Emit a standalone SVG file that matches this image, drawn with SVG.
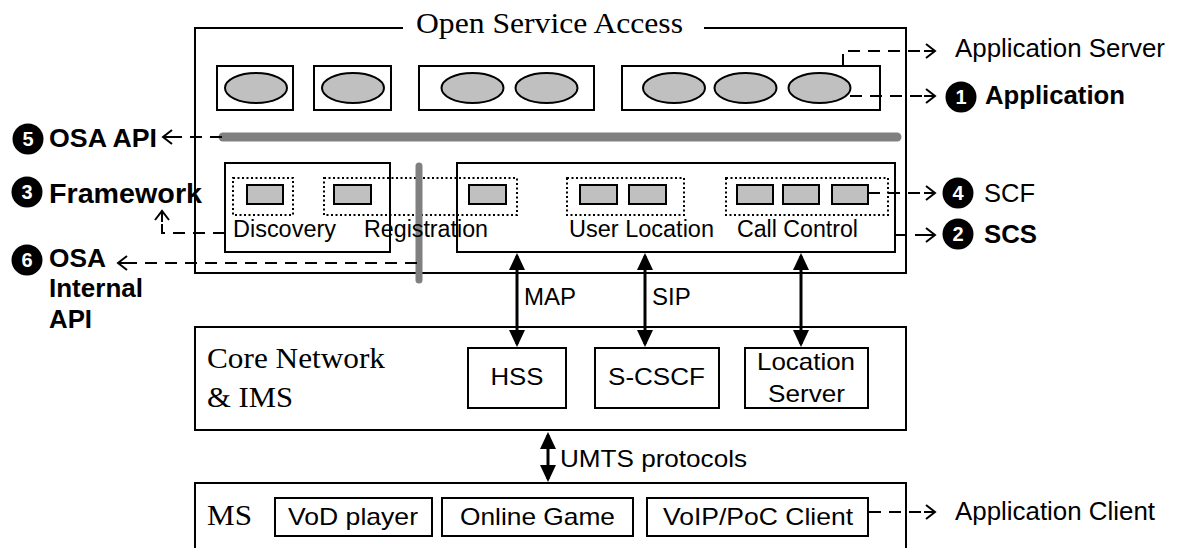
<svg xmlns="http://www.w3.org/2000/svg" width="1178" height="548" viewBox="0 0 1178 548">
  <defs>
    <style>
      .box { fill: #fff; stroke: #000; stroke-width: 2; }
      .frame { fill: none; stroke: #000; stroke-width: 2; }
      .app { fill: #c0c0c0; stroke: #000; stroke-width: 2; }
      .fn { fill: #c0c0c0; stroke: #000; stroke-width: 2; }
      .group { fill: none; stroke: #000; stroke-width: 2; stroke-dasharray: 2 2.5; }
      .bar { stroke: #808080; stroke-linecap: round; fill: none; }
      .dash { fill: none; stroke: #000; stroke-width: 2; stroke-dasharray: 12 8; }
      .link { fill: none; stroke: #000; stroke-width: 3; }
      .sans { font-family: "Liberation Sans", Arial, sans-serif; fill: #000; }
      .serif { font-family: "Liberation Serif", "Times New Roman", serif; fill: #000; }
      .b { font-weight: bold; }
      .badge { fill: #000; }
      .digit { font-family: "Liberation Sans", Arial, sans-serif; font-weight: bold; font-size: 20px; fill: #fff; text-anchor: middle; }
    </style>
    <marker id="head" viewBox="0 0 17 16" refX="14" refY="8" markerWidth="17" markerHeight="16" markerUnits="userSpaceOnUse" orient="auto-start-reverse">
      <path d="M0,0 L17,8 L0,16 z" fill="#000"/>
    </marker>
    <marker id="chev" viewBox="-12 -8 14 16" refX="0" refY="0" markerWidth="14" markerHeight="16" markerUnits="userSpaceOnUse" orient="auto" overflow="visible">
      <path d="M-11,0 H0 M-9,-7 L0,0 L-9,7" fill="none" stroke="#000" stroke-width="2"/>
    </marker>
  </defs>

  <rect width="1178" height="548" fill="#fff"/>

  <!-- Open Service Access frame -->
  <g id="osa">
    <path class="frame" d="M403,28 H195 V273 H906 V28 H704"/>
    <text class="serif" x="416" y="33" font-size="30" textLength="267" lengthAdjust="spacingAndGlyphs">Open Service Access</text>
  </g>

  <!-- application servers -->
  <g id="app-1">
    <rect class="box" x="217" y="66" width="76" height="44"/>
    <ellipse class="app" cx="256" cy="88" rx="31" ry="15"/>
  </g>
  <g id="app-2">
    <rect class="box" x="314" y="66" width="77" height="44"/>
    <ellipse class="app" cx="353" cy="88" rx="31" ry="15"/>
  </g>
  <g id="app-3">
    <rect class="box" x="419" y="66" width="175" height="44"/>
    <ellipse class="app" cx="472.5" cy="88" rx="31" ry="15"/>
    <ellipse class="app" cx="546.5" cy="88" rx="31" ry="15"/>
  </g>
  <g id="app-4">
    <rect class="box" x="622" y="66" width="258" height="44"/>
    <ellipse class="app" cx="674" cy="88" rx="31" ry="15"/>
    <ellipse class="app" cx="745.5" cy="88" rx="31" ry="15"/>
    <ellipse class="app" cx="819.5" cy="88" rx="31" ry="15"/>
  </g>

  <!-- OSA API bar -->
  <g id="osa-api-bar">
    <line class="bar" x1="223" y1="137" x2="897" y2="137" stroke-width="9"/>
  </g>

  <!-- Framework -->
  <g id="framework">
    <rect class="box" x="225" y="163" width="165" height="89"/>
  </g>

  <!-- Service Capability Server -->
  <g id="scs">
    <rect class="box" x="457" y="163" width="438" height="89"/>
  </g>

  <!-- service capability features -->
  <g id="discovery">
    <rect class="group" x="233" y="178" width="60" height="37"/>
    <rect class="fn" x="247" y="185" width="36" height="19"/>
    <text class="sans" x="233" y="237" font-size="23.5" textLength="103" lengthAdjust="spacingAndGlyphs">Discovery</text>
  </g>
  <g id="registration">
    <rect class="group" x="324" y="178" width="193" height="37"/>
    <rect class="fn" x="334" y="185" width="37" height="19"/>
    <rect class="fn" x="469" y="185" width="37" height="19"/>
  </g>
  <g id="user-location">
    <rect class="group" x="567" y="178" width="117" height="37"/>
    <rect class="fn" x="580" y="185" width="37" height="19"/>
    <rect class="fn" x="629" y="185" width="37" height="19"/>
    <text class="sans" x="569" y="237" font-size="23.5" textLength="145" lengthAdjust="spacingAndGlyphs">User Location</text>
  </g>
  <g id="call-control">
    <rect class="group" x="726" y="178" width="162" height="37"/>
    <rect class="fn" x="737" y="185" width="36" height="19"/>
    <rect class="fn" x="783" y="185" width="36" height="19"/>
    <rect class="fn" x="832" y="185" width="36" height="19"/>
    <text class="sans" x="737" y="237" font-size="23.5" textLength="121" lengthAdjust="spacingAndGlyphs">Call Control</text>
  </g>

  <!-- OSA internal API bar -->
  <g id="osa-internal-bar">
    <line class="bar" x1="419" y1="166" x2="419" y2="280" stroke-width="7"/>
  </g>
  <text class="sans" x="364" y="237" font-size="23.5" textLength="124" lengthAdjust="spacingAndGlyphs">Registration</text>

  <!-- Core Network & IMS -->
  <g id="core">
    <rect class="box" x="195" y="327" width="711" height="103"/>
    <text class="serif" x="207" y="368" font-size="29" textLength="178" lengthAdjust="spacingAndGlyphs">Core Network</text>
    <text class="serif" x="207" y="407" font-size="29" textLength="86" lengthAdjust="spacingAndGlyphs">&amp; IMS</text>
  </g>
  <g id="hss">
    <rect class="box" x="468" y="348" width="98" height="60"/>
    <text class="sans" x="490.5" y="385" font-size="24" textLength="53" lengthAdjust="spacingAndGlyphs">HSS</text>
  </g>
  <g id="s-cscf">
    <rect class="box" x="595" y="348" width="124" height="60"/>
    <text class="sans" x="608" y="385" font-size="24" textLength="97" lengthAdjust="spacingAndGlyphs">S-CSCF</text>
  </g>
  <g id="location-server">
    <rect class="box" x="745" y="348" width="123" height="60"/>
    <text class="sans" x="757" y="370" font-size="24" textLength="98" lengthAdjust="spacingAndGlyphs">Location</text>
    <text class="sans" x="768" y="402" font-size="24" textLength="77" lengthAdjust="spacingAndGlyphs">Server</text>
  </g>

  <!-- Mobile Station -->
  <g id="ms">
    <rect class="box" x="195" y="483" width="711" height="80"/>
    <text class="serif" x="207" y="525" font-size="29" textLength="45" lengthAdjust="spacingAndGlyphs">MS</text>
  </g>
  <g id="vod-player">
    <rect class="box" x="275" y="498" width="157" height="38"/>
    <text class="sans" x="288" y="525" font-size="24" textLength="130" lengthAdjust="spacingAndGlyphs">VoD player</text>
  </g>
  <g id="online-game">
    <rect class="box" x="442" y="498" width="191" height="38"/>
    <text class="sans" x="460" y="525" font-size="24" textLength="155" lengthAdjust="spacingAndGlyphs">Online Game</text>
  </g>
  <g id="voip-client">
    <rect class="box" x="647" y="498" width="221" height="38"/>
    <text class="sans" x="663" y="525" font-size="24" textLength="190" lengthAdjust="spacingAndGlyphs">VoIP/PoC Client</text>
  </g>

  <!-- connectors -->
  <g id="connectors">
    <line class="link" x1="517" y1="256" x2="517" y2="344" marker-start="url(#head)" marker-end="url(#head)"/>
    <line class="link" x1="645" y1="256" x2="645" y2="344" marker-start="url(#head)" marker-end="url(#head)"/>
    <line class="link" x1="801" y1="256" x2="801" y2="344" marker-start="url(#head)" marker-end="url(#head)"/>
    <line class="link" x1="548" y1="435" x2="548" y2="479" marker-start="url(#head)" marker-end="url(#head)"/>

    <path class="dash" d="M843,66 V51 H935" marker-end="url(#chev)"/>
    <path class="dash" d="M850,96 H935" marker-end="url(#chev)"/>
    <path class="dash" d="M868,193 H935" marker-end="url(#chev)"/>
    <path class="dash" d="M895,235 H935" marker-end="url(#chev)"/>
    <path class="dash" d="M869,512 H935" marker-end="url(#chev)"/>
    <path class="dash" d="M222,137 H163" marker-end="url(#chev)"/>
    <path class="dash" d="M225,233 H162 V211" marker-end="url(#chev)"/>
    <path class="dash" d="M417,263 H118" marker-end="url(#chev)"/>
  </g>

  <!-- connector labels -->
  <g id="connector-labels">
    <text class="sans" x="524" y="305" font-size="24">MAP</text>
    <text class="sans" x="652" y="305" font-size="24">SIP</text>
    <text class="sans" x="560" y="467" font-size="24" textLength="187" lengthAdjust="spacingAndGlyphs">UMTS protocols</text>
  </g>

  <!-- legend -->
  <g id="legend-application-server">
    <text class="sans" x="955" y="57" font-size="25" textLength="210" lengthAdjust="spacingAndGlyphs">Application Server</text>
  </g>
  <g id="legend-application">
    <circle class="badge" cx="961" cy="97" r="15.5"/>
    <text class="digit" x="961" y="104">1</text>
    <text class="sans b" x="985" y="104" font-size="25.5" textLength="140" lengthAdjust="spacingAndGlyphs">Application</text>
  </g>
  <g id="legend-scf">
    <circle class="badge" cx="958" cy="193" r="15.5"/>
    <text class="digit" x="958" y="200">4</text>
    <text class="sans" x="984" y="202" font-size="25" textLength="51" lengthAdjust="spacingAndGlyphs">SCF</text>
  </g>
  <g id="legend-scs">
    <circle class="badge" cx="958" cy="234" r="15.5"/>
    <text class="digit" x="958" y="241">2</text>
    <text class="sans b" x="984" y="243" font-size="25.5" textLength="53" lengthAdjust="spacingAndGlyphs">SCS</text>
  </g>
  <g id="legend-osa-api">
    <circle class="badge" cx="28" cy="139" r="15.5"/>
    <text class="digit" x="28" y="146">5</text>
    <text class="sans b" x="49" y="147" font-size="26" textLength="108" lengthAdjust="spacingAndGlyphs">OSA API</text>
  </g>
  <g id="legend-framework">
    <circle class="badge" cx="27" cy="192" r="15.5"/>
    <text class="digit" x="27" y="199">3</text>
    <text class="sans b" x="49" y="203" font-size="27" textLength="153" lengthAdjust="spacingAndGlyphs">Framework</text>
  </g>
  <g id="legend-osa-internal-api">
    <circle class="badge" cx="27" cy="260" r="15.5"/>
    <text class="digit" x="27" y="267">6</text>
    <text class="sans b" x="49" y="267" font-size="26" textLength="57" lengthAdjust="spacingAndGlyphs">OSA</text>
    <text class="sans b" x="49" y="297" font-size="26" textLength="94" lengthAdjust="spacingAndGlyphs">Internal</text>
    <text class="sans b" x="49" y="328" font-size="26" textLength="43" lengthAdjust="spacingAndGlyphs">API</text>
  </g>
  <g id="legend-application-client">
    <text class="sans" x="955" y="520" font-size="25" textLength="200" lengthAdjust="spacingAndGlyphs">Application Client</text>
  </g>
</svg>
